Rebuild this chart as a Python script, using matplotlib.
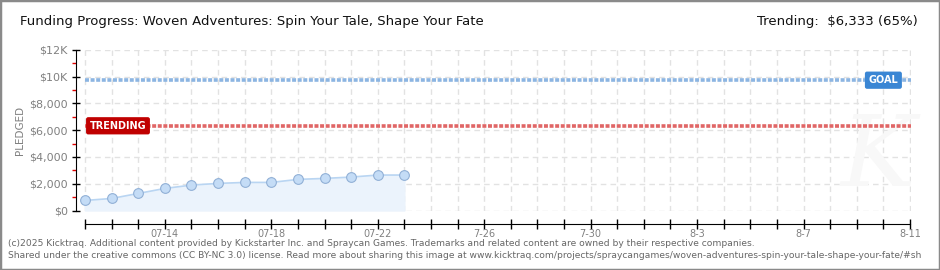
import numpy as np
import matplotlib
matplotlib.use('Agg')
import matplotlib.pyplot as plt
from matplotlib.patches import Rectangle

# days counted from 07-11
days=np.arange(0,13)
pledged=[750,900,1275,1650,1900,2025,2100,2100,2325,2400,2500,2650,2650]
goal=9743
trending=6333
endDay=31
xlabDays=[3,7,11,15,19,23,27,31]
xlabs=['07-14','07-18','07-22','7-26','7-30','8-3','8-7','8-11']
ylabVals=[0,2000,4000,6000,8000,10000,12000]
ylabs=['$0','$2,000','$4,000','$6,000','$8,000','$10K','$12K']

fam=['Liberation Sans Narrow','DejaVu Sans']
W,H=940.,270.
fig=plt.figure(figsize=(9.4,2.7),dpi=100)
fig.patches.append(Rectangle((0,0),1,1,transform=fig.transFigure,fill=False,
                             edgecolor='#8a8a8a',linewidth=2.5))
pxd=26.65
ax=fig.add_axes([76/W,59.5/H,(911-76)/W,160.5/H])
ax.set_xlim(-9/pxd,endDay+1/pxd)
ax.set_ylim(0,12000)

# grid
ax.hlines(ylabVals,0,endDay,colors='#e2e2e2',linestyles=(0,(4,3)),linewidth=1,zorder=0)
ax.vlines(np.arange(0,endDay+1),0,12000,colors='#e2e2e2',linestyles=(0,(4,3)),linewidth=1,zorder=0)

# watermark
ax.text(endDay-1.2,300,'K',fontsize=72,color='#f8f8f8',style='italic',
        ha='center',va='bottom',family='DejaVu Serif',zorder=0)

# goal / trending
ax.plot([0,endDay+1/pxd],[goal,goal],color='#8cb5e2',lw=2.6,ls=(0,(1.1,0.45)),zorder=2)
ax.plot([0,endDay+1/pxd],[trending,trending],color='#e06666',lw=2.6,ls=(0,(1.1,0.45)),zorder=2)
ax.text(30.0,goal,'GOAL',color='white',fontsize=7,family=fam,fontweight='bold',ha='center',va='center',
        bbox=dict(boxstyle='round,pad=0.3,rounding_size=0.15',fc='#3a86d4',ec='#3a86d4'),zorder=4)
ax.text(1.24,trending,'TRENDING',color='white',fontsize=7,family=fam,fontweight='bold',ha='center',va='center',
        bbox=dict(boxstyle='round,pad=0.3,rounding_size=0.15',fc='#c00000',ec='#c00000'),zorder=4)

# pledged
ax.fill_between(days,pledged,0,color='#ebf3fc',zorder=1)
ax.plot(days,pledged,color='#b9d5f2',lw=1.2,marker='o',ms=7,mfc='#c4dcf6',mec='#91b0d6',mew=0.8,zorder=3)

for s in ['top','right']:
    ax.spines[s].set_visible(False)
ax.spines['left'].set_color('black')
ax.spines['bottom'].set_position(('outward',10))
ax.spines['bottom'].set_bounds(0,endDay)

ax.set_yticks(ylabVals)
ax.set_yticklabels(ylabs)
ax.set_yticks([1000,3000,5000,7000,9000,11000],minor=True)
ax.tick_params(axis='y',which='major',direction='inout',length=6,width=1,colors='black',labelcolor='#808080',labelsize=8,pad=3)
ax.tick_params(axis='y',which='minor',direction='out',length=3,width=1,colors='#e00000')
ax.set_xticks(np.arange(0,endDay+1))
ax.set_xticklabels([xlabs[xlabDays.index(d)] if d in xlabDays else '' for d in range(endDay+1)])
ax.tick_params(axis='x',which='major',direction='inout',length=7,width=1,colors='black',labelcolor='#808080',labelsize=7,pad=0)
for t in ax.get_xticklabels()+ax.get_yticklabels():
    t.set_family(fam)
ax.set_ylabel('PLEDGED',color='#808080',fontsize=7.5,family=fam,labelpad=3)

fig.text(20/W,1-22/H,'Funding Progress: Woven Adventures: Spin Your Tale, Shape Your Fate',
         fontsize=9.5,family=fam,color='#111111',va='center',ha='left')
fig.text(918/W,1-22/H,'Trending:  $6,333 (65%)',fontsize=9.5,family=fam,color='#111111',va='center',ha='right')
fig.text(8/W,1-243/H,'(c)2025 Kicktraq. Additional content provided by Kickstarter Inc. and Spraycan Games. Trademarks and related content are owned by their respective companies.',
         fontsize=6.6,family=fam,color='#666666',va='center',ha='left')
fig.text(8/W,1-256/H,'Shared under the creative commons (CC BY-NC 3.0) license. Read more about sharing this image at www.kicktraq.com/projects/spraycangames/woven-adventures-spin-your-tale-shape-your-fate/#sh',
         fontsize=6.6,family=fam,color='#666666',va='center',ha='left')

fig.savefig('out.png',dpi=100)
